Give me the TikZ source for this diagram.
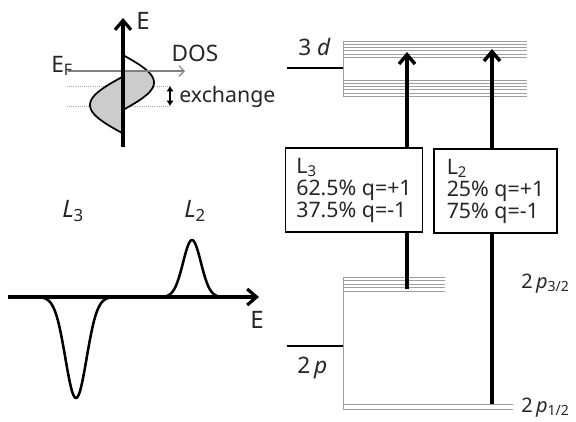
\documentclass[tikz,border=0pt]{standalone}
\usepackage{fontspec}
\setmainfont{Noto Sans}
\usetikzlibrary{arrows.meta,positioning}

\begin{document}
\begin{tikzpicture}[x=0.75pt,y=-0.75pt,
  every node/.style={font=\fontsize{16}{16.5}\selectfont,text=black!85,inner sep=0pt},
  axisline/.style={line width=2.4pt,-{Straight Barb[length=7pt,width=12pt]}},
  doscurve/.style={line width=1.3pt},
  dosfill/.style={fill=gray!40},
  guideline/.style={gray!70,line width=0.6pt,densely dotted},
  bandline/.style={gray!75,line width=0.7pt},
  levelline/.style={line width=1.6pt},
  transarrow/.style={line width=2.6pt,-{Straight Barb[length=7pt,width=12pt]}},
  ratebox/.style={draw,line width=0.9pt,fill=white,align=left,font=\fontsize{16}{16.5}\selectfont,inner xsep=8pt,minimum height=63pt}]

\useasboundingbox (0,0) rectangle (576,422);

\coordinate (Ebot) at (123,147);

\coordinate (Etop) at (123,18);

\coordinate (EFl) at (68,71);

\coordinate (EFr) at (185,71);

\coordinate (gl1) at (67,86);

\coordinate (gl2) at (67,106);

\coordinate (exup) at (170,86);

\coordinate (exdn) at (170,106);

\draw[guideline] (gl1) -- (exup);

\draw[guideline] (gl2) -- (exdn);

\fill[dosfill] (123,71) -- plot[domain=71:110,samples=30] ({123+31*sin(180*(\x-55)/55)},\x) -- cycle;

\fill[dosfill] (122,77) -- plot[domain=77:133,samples=30] ({122-32*sin(180*(\x-77)/56)},\x) -- cycle;

\draw[doscurve] plot[domain=55:110,samples=40,smooth] ({123+31*sin(180*(\x-55)/55)},\x);

\draw[doscurve] plot[domain=77:133,samples=40,smooth] ({122-32*sin(180*(\x-77)/56)},\x);

\draw[gray,line width=0.8pt,-{Straight Barb[length=4pt,width=8pt]}] (EFl) -- (EFr);

\draw[axisline] (Ebot) -- (Etop);

\draw[line width=0.9pt,{Latex[length=4pt,width=5.5pt]}-{Latex[length=4pt,width=5.5pt]}] (exup) -- (exdn);

\node[font=\fontsize{18}{18}\selectfont] (Elab) at (143,21) {E};

\node[font=\fontsize{17}{18}\selectfont] (DOSlab) at (195,53.5) {DOS};

\node[anchor=base west,font=\fontsize{17}{18}\selectfont] (EFlab) at (51,72) {E\textsubscript{F}};

\node[anchor=base west] (exlab) at (179,102) {exchange};

\coordinate (Sl) at (8,297);

\coordinate (Sr) at (259,297);

\draw[line width=1.9pt] plot[domain=38:114,samples=60,smooth] (\x,{297+101*exp(-(\x-76)*(\x-76)/225)});

\draw[line width=1.9pt] plot[domain=160:224,samples=50,smooth] (\x,{297-57*exp(-(\x-192)*(\x-192)/159)});

\draw[axisline] (Sl) -- (Sr);

\node[anchor=base,font=\fontsize{18}{18}\selectfont] (Eslab) at (257,328) {E};

\node[anchor=base west,font=\fontsize{18}{18}\selectfont] (L3lab) at (62,217) {\textit{L}\textsubscript{3}};

\node[anchor=base west,font=\fontsize{18}{18}\selectfont] (L2lab) at (184,217) {\textit{L}\textsubscript{2}};

\coordinate (d3l) at (287,68);

\coordinate (d3r) at (343,68);

\coordinate (p2l) at (287,346);

\coordinate (p2r) at (343,346);

\draw[levelline] (d3l) -- (d3r);

\draw[levelline] (p2l) -- (p2r);

\draw[bandline] (343,41) -- (343,96.5);

\draw[bandline] (343,41) -- (527,41);

\draw[bandline] (343,44.3) -- (527,44.3);

\draw[bandline] (343,47.6) -- (527,47.6);

\draw[bandline] (343,50.9) -- (527,50.9);

\draw[bandline] (343,54.2) -- (527,54.2);

\draw[bandline] (343,57.5) -- (527,57.5);

\draw[bandline] (343,80) -- (527,80);

\draw[bandline] (343,83.3) -- (527,83.3);

\draw[bandline] (343,86.6) -- (527,86.6);

\draw[bandline] (343,89.9) -- (527,89.9);

\draw[bandline] (343,93.2) -- (527,93.2);

\draw[bandline] (343,96.5) -- (527,96.5);

\draw[bandline] (343,277) -- (343,409);

\draw[bandline] (343,277) -- (445,277);

\draw[bandline] (343,280.5) -- (445,280.5);

\draw[bandline] (343,284) -- (445,284);

\draw[bandline] (343,287.5) -- (445,287.5);

\draw[bandline] (343,291) -- (445,291);

\draw[bandline] (343,404) -- (513,404);

\draw[bandline] (343,409) -- (513,409);

\coordinate (a3s) at (407,289);

\coordinate (a3e) at (407,52);

\coordinate (a2s) at (492,404);

\coordinate (a2e) at (492,49);

\draw[transarrow] (a3s) -- (a3e);

\draw[transarrow] (a2s) -- (a2e);

\node[ratebox,minimum width=100.5pt] (boxL3) at (354,190) {L\textsubscript{3}\\62.5\% q=+1\\37.5\% q=-1};

\node[ratebox,minimum width=92.25pt] (boxL2) at (495.5,191) {L\textsubscript{2}\\25\% q=+1\\75\% q=-1};

\node[anchor=base west,font=\fontsize{17}{18}\selectfont] (d3lab) at (298,55) {3 \textit{d}};

\node[anchor=base west,font=\fontsize{17}{18}\selectfont] (p2lab) at (297,373) {2\,\textit{p}};

\node[anchor=base west,font=\fontsize{15}{16.5}\selectfont] (p32lab) at (521,288) {2\,\textit{p}\textsubscript{3/2}};

\node[anchor=base west,font=\fontsize{15}{16.5}\selectfont] (p12lab) at (521,412) {2\,\textit{p}\textsubscript{1/2}};

\end{tikzpicture}
\end{document}
